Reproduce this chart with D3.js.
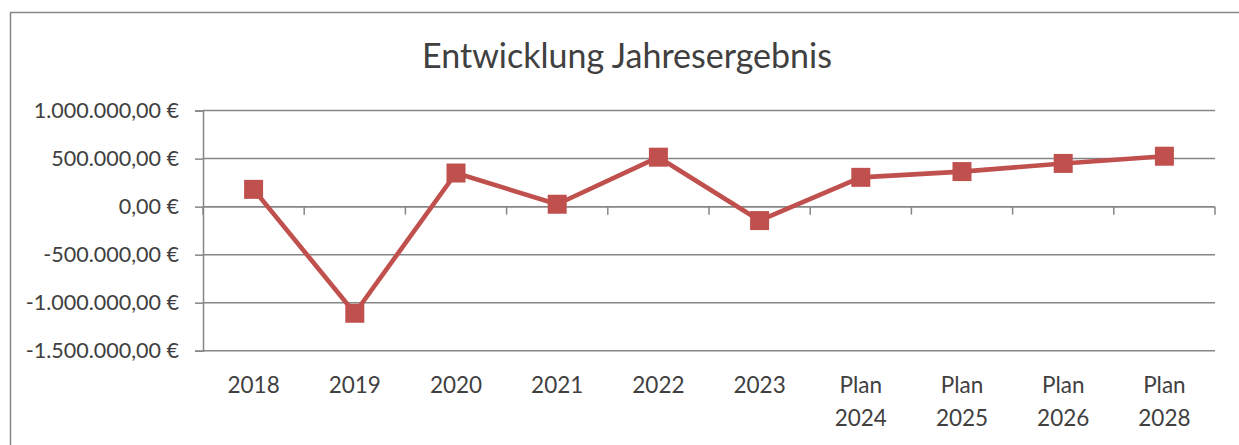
<!DOCTYPE html>
<html>
<head>
<meta charset="utf-8">
<script src="https://cdn.jsdelivr.net/npm/d3@7"></script>
<style>
  html, body { margin: 0; padding: 0; background: #fff; }
  svg { display: block; }
  text { font-family: Lato, "Open Sans", sans-serif; fill: #404040; }
</style>
</head>
<body>
<svg id="chart" width="1239" height="445"></svg>
<script>
// Annual result per year (EUR), including planned years
const categories = ["2018", "2019", "2020", "2021", "2022", "2023", "Plan 2024", "Plan 2025", "Plan 2026", "Plan 2028"];
const results = [180000, -1110000, 350000, 25000, 515000, -145000, 305000, 365000, 450000, 525000];
const yTicks = [-1500000, -1000000, -500000, 0, 500000, 1000000];
const chartTitle = "Entwicklung Jahresergebnis";

const svg = d3.select("#chart");
const W = 1239, H = 445;
const plot = { left: 203, right: 1215, top: 110.6, bottom: 350.7 };
const grey = "#868686";
const red = "#C0504D";

// outer chart frame
svg.append("rect")
  .attr("x", 10.5).attr("y", 12.5)
  .attr("width", W + 20).attr("height", H + 20)
  .attr("fill", "#fff").attr("stroke", grey).attr("stroke-width", 1.5);

const x = d3.scaleBand().domain(categories).range([plot.left, plot.right]).padding(0);
const y = d3.scaleLinear().domain([-1500000, 1000000]).range([plot.bottom, plot.top]);

// German currency format: 1.000.000,00 €
const de = d3.formatLocale({ decimal: ",", thousands: ".", grouping: [3], currency: ["", " €"], minus: "-" });
const fmt = de.format("$,.2f");

// title
svg.append("text")
  .attr("x", 627).attr("y", 68)
  .attr("text-anchor", "middle")
  .style("font-size", "34px")
  .text(chartTitle);

// horizontal gridlines
svg.append("g").selectAll("line")
  .data(yTicks)
  .join("line")
  .attr("x1", plot.left).attr("x2", plot.right)
  .attr("y1", d => y(d)).attr("y2", d => y(d))
  .attr("stroke", grey).attr("stroke-width", 1.5);

// y axis
const yAxis = svg.append("g")
  .attr("transform", `translate(${plot.left},0)`)
  .call(d3.axisLeft(y).tickValues(yTicks).tickFormat(fmt).tickSize(8).tickPadding(16));
yAxis.select(".domain").attr("stroke", grey).attr("stroke-width", 1.5);
yAxis.selectAll(".tick line").attr("stroke", grey).attr("stroke-width", 1.5);
yAxis.selectAll(".tick text")
  .style("font-size", "21.5px").style("font-family", "Lato, sans-serif").attr("fill", "#404040");

// x axis on the zero line, ticks at category boundaries
const bounds = categories.map(c => x(c)).concat([x.range()[1]]);
const xAxisG = svg.append("g").attr("transform", `translate(0,${y(0)})`);
xAxisG.append("line")
  .attr("x1", plot.left).attr("x2", plot.right)
  .attr("stroke", grey).attr("stroke-width", 1.5);
xAxisG.selectAll("line.tk")
  .data(bounds)
  .join("line").attr("class", "tk")
  .attr("x1", d => d).attr("x2", d => d)
  .attr("y1", 0).attr("y2", 8)
  .attr("stroke", grey).attr("stroke-width", 1.5);

// category labels below the plot
const labels = svg.append("g").selectAll("text")
  .data(categories)
  .join("text")
  .attr("text-anchor", "middle")
  .style("font-size", "22.5px")
  .attr("transform", d => `translate(${x(d) + x.bandwidth() / 2},393)`);
labels.each(function(d) {
  const parts = d.split(" ");
  const t = d3.select(this);
  parts.forEach((p, i) => {
    t.append("tspan").attr("x", 0).attr("y", i * 33).text(p);
  });
});

// line
const pts = categories.map((c, i) => [x(c) + x.bandwidth() / 2, y(results[i])]);
svg.append("path")
  .attr("d", d3.line()(pts))
  .attr("fill", "none").attr("stroke", red)
  .attr("stroke-width", 4.6).attr("stroke-linejoin", "round");

// square markers
const ms = 19;
svg.append("g").selectAll("rect")
  .data(pts)
  .join("rect")
  .attr("x", d => d[0] - ms / 2).attr("y", d => d[1] - ms / 2)
  .attr("width", ms).attr("height", ms)
  .attr("fill", red);
</script>
</body>
</html>
